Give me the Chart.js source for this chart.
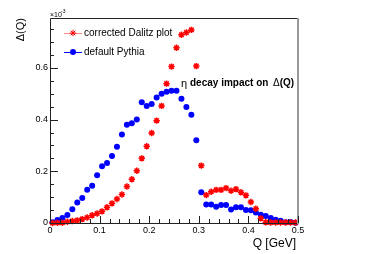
<!DOCTYPE html>
<html>
<head>
<meta charset="utf-8">
<script src="https://cdn.jsdelivr.net/npm/chart.js@4.4.1/dist/chart.umd.min.js"></script>
<style>
  html, body { margin: 0; padding: 0; background: #fff; }
  canvas { display: block; }
</style>
</head>
<body>
<canvas id="myChart" width="374" height="254"></canvas>
<script>
// Q bin centres [GeV]
const qBins = [
    0.005, 0.015, 0.025, 0.035, 0.045, 0.055, 0.065, 0.075, 0.085, 0.095,
    0.105, 0.115, 0.125, 0.135, 0.145, 0.155, 0.165, 0.175, 0.185, 0.195,
    0.205, 0.215, 0.225, 0.235, 0.245, 0.255, 0.265, 0.275, 0.285, 0.295,
    0.305, 0.315, 0.325, 0.335, 0.345, 0.355, 0.365, 0.375, 0.385, 0.395,
    0.405, 0.415, 0.425, 0.435, 0.445, 0.455, 0.465, 0.475, 0.485, 0.495
];

// Delta(Q) in units of 1e-3
const dalitzValues = [
    0.000, 0.001, 0.001, 0.005, 0.008, 0.010, 0.015, 0.021, 0.030, 0.037,
    0.045, 0.061, 0.076, 0.093, 0.110, 0.141, 0.169, 0.202, 0.250, 0.297,
    0.348, 0.396, 0.453, 0.539, 0.605, 0.678, 0.728, 0.737, 0.747, 0.607,
    0.222, 0.108, 0.121, 0.128, 0.128, 0.135, 0.125, 0.131, 0.119, 0.107,
    0.081, 0.055, 0.018, 0.003, 0.002, 0.002, 0.002, 0.002, 0.002, 0.002
];

const pythiaValues = [
    0.003, 0.012, 0.019, 0.031, 0.053, 0.079, 0.097, 0.129, 0.144, 0.185,
    0.220, 0.232, 0.259, 0.295, 0.342, 0.380, 0.386, 0.400, 0.467, 0.453,
    0.460, 0.485, 0.500, 0.508, 0.512, 0.512, 0.481, 0.449, 0.419, 0.320,
    0.119, 0.072, 0.072, 0.063, 0.070, 0.070, 0.052, 0.061, 0.061, 0.050,
    0.049, 0.041, 0.032, 0.027, 0.019, 0.013, 0.009, 0.003, 0.004, 0.001
];

const seriesNames = ['corrected Dalitz plot', 'default Pythia'];

// axis tick labels
const xTicks = [0, 0.1, 0.2, 0.3, 0.4, 0.5];
const yTicks = [0, 0.2, 0.4, 0.6];

const FONT = '"Liberation Sans", Arial, Helvetica, sans-serif';

const toPoints = (values) => values.map((v, i) => ({ x: qBins[i], y: v }));

// ROOT style frame, inner ticks and texts
const rootStyle = {
    id: 'rootStyle',
    afterDraw(chart) {
        const ctx = chart.ctx;
        const { left, right, top, bottom } = chart.chartArea;
        const xs = chart.scales.x;
        const ys = chart.scales.y;

        ctx.save();
        // frame
        ctx.strokeStyle = '#222';
        ctx.lineWidth = 1;
        ctx.beginPath();
        ctx.moveTo(left + 0.5, bottom + 0.5);
        ctx.lineTo(left + 0.5, top + 0.5);
        ctx.lineTo(right, top + 0.5);
        ctx.moveTo(left, bottom + 0.5);
        ctx.lineTo(right, bottom + 0.5);
        ctx.stroke();
        ctx.strokeStyle = '#999';
        ctx.lineWidth = 2;
        ctx.beginPath();
        ctx.moveTo(right, top);
        ctx.lineTo(right, bottom + 1);
        ctx.stroke();

        // ticks (drawn inside like ROOT)
        ctx.strokeStyle = '#222';
        ctx.lineWidth = 1;
        ctx.beginPath();
        for (let v = 0; v <= 0.5001; v += 0.02) {
            const px = Math.round(xs.getPixelForValue(v)) + 0.5;
            const major = Math.abs(v * 10 - Math.round(v * 10)) < 1e-6;
            ctx.moveTo(px, bottom);
            ctx.lineTo(px, bottom - (major ? 7 : 4));
        }
        for (let v = 0; v <= ys.max; v += 0.05) {
            const py = Math.round(ys.getPixelForValue(v)) + 0.5;
            const major = Math.abs(v * 5 - Math.round(v * 5)) < 1e-6;
            ctx.moveTo(left, py);
            ctx.lineTo(left + (major ? 8 : 4), py);
        }
        ctx.stroke();

        ctx.fillStyle = '#000';
        // exponent
        ctx.font = '7px ' + FONT;
        ctx.textBaseline = 'alphabetic';
        ctx.textAlign = 'left';
        ctx.fillText('\u00d710', left, 16.5);
        ctx.font = '5px ' + FONT;
        ctx.fillText('-3', left + 11, 13);

        // y title
        ctx.save();
        ctx.translate(21, top);
        ctx.rotate(-Math.PI / 2);
        ctx.font = '11px ' + FONT;
        ctx.textAlign = 'right';
        ctx.textBaseline = 'middle';
        ctx.fillText('\u0394(Q)', 0, 0);
        ctx.restore();

        // x title
        ctx.font = '12px ' + FONT;
        ctx.textAlign = 'right';
        ctx.textBaseline = 'alphabetic';
        ctx.fillText('Q [GeV]', right - 2, 246.5);

        // annotation
        ctx.textAlign = 'left';
        ctx.textBaseline = 'middle';
        let ax = 181;
        const ay = 83.5;
        ctx.font = '11px ' + FONT;
        ctx.fillText('\u03b7', ax, ay);
        ax = 190;
        ctx.font = 'bold 10px ' + FONT;
        ctx.fillText('decay impact on', ax, ay);
        ax = 273;
        ctx.font = '10px ' + FONT;
        ctx.fillText('\u0394', ax, ay);
        ax += ctx.measureText('\u0394').width;
        ctx.font = 'bold 10px ' + FONT;
        ctx.fillText('(Q)', ax, ay);

        // legend
        chart.data.datasets.forEach((ds, i) => {
            const ly = 33 + i * 19;
            ctx.strokeStyle = ds.legendLine;
            ctx.lineWidth = 1;
            ctx.beginPath();
            ctx.moveTo(64, ly + 0.5);
            ctx.lineTo(82, ly + 0.5);
            ctx.stroke();
            ctx.strokeStyle = ds.borderColor;
            ctx.fillStyle = ds.backgroundColor;
            Chart.helpers.drawPoint(ctx, {
                pointStyle: ds.pointStyle,
                radius: ds.pointRadius,
                borderWidth: ds.borderWidth
            }, 73, ly);
            ctx.fillStyle = '#000';
            ctx.font = '10px ' + FONT;
            ctx.textAlign = 'left';
            ctx.textBaseline = 'middle';
            ctx.fillText(ds.label, 84, ly);
        });
        ctx.restore();
    }
};

let chart = null;

const myChart = () => {
    const ctx = document.getElementById('myChart').getContext('2d');
    chart = new Chart(ctx, {
        type: 'scatter',
        data: {
            datasets: [{
                label: seriesNames[0],
                data: toPoints(dalitzValues),
                pointStyle: 'star',
                pointRadius: 3.2,
                borderWidth: 1.5,
                borderColor: 'rgb(255, 0, 0)',
                backgroundColor: 'rgb(255, 0, 0)',
                legendLine: 'rgba(255, 80, 80, 0.7)',
                clip: false
            }, {
                label: seriesNames[1],
                data: toPoints(pythiaValues),
                pointStyle: 'circle',
                pointRadius: 3,
                borderWidth: 0,
                borderColor: 'rgb(0, 0, 255)',
                backgroundColor: 'rgb(0, 0, 255)',
                legendLine: 'rgb(0, 0, 255)',
                clip: false
            }]
        },
        options: {
            responsive: false,
            animation: false,
            devicePixelRatio: 1,
            layout: { padding: { left: 0, top: 18, right: 76, bottom: 0 } },
            plugins: {
                legend: { display: false },
                tooltip: { enabled: false }
            },
            scales: {
                x: {
                    type: 'linear',
                    min: 0,
                    max: 0.5,
                    grid: { display: false, drawTicks: false },
                    border: { display: false },
                    afterBuildTicks: (s) => { s.ticks = xTicks.map(v => ({ value: v })); },
                    afterFit: (s) => { s.height = 31; },
                    ticks: {
                        autoSkip: false,
                        maxRotation: 0,
                        padding: 2,
                        color: '#000',
                        font: { family: FONT, size: 9 },
                        callback: (v) => v === 0 ? '0' : v.toFixed(1)
                    }
                },
                y: {
                    type: 'linear',
                    min: 0,
                    max: 0.793,
                    grid: { display: false, drawTicks: false },
                    border: { display: false },
                    afterBuildTicks: (s) => { s.ticks = yTicks.map(v => ({ value: v })); },
                    afterFit: (s) => { s.width = 50; },
                    ticks: {
                        autoSkip: false,
                        padding: 2,
                        color: '#000',
                        font: { family: FONT, size: 9 },
                        callback: (v) => v === 0 ? '0' : v.toFixed(1)
                    }
                }
            }
        },
        plugins: [rootStyle]
    });
    return chart;
};

myChart();
</script>
</body>
</html>
